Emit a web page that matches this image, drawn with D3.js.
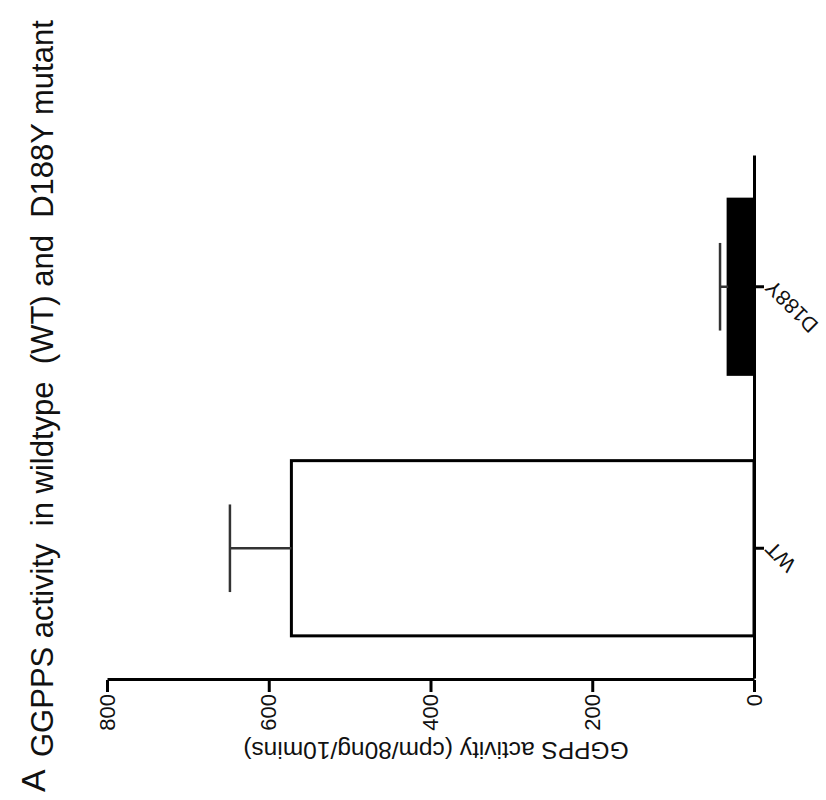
<!DOCTYPE html>
<html>
<head>
<meta charset="utf-8">
<script src="https://cdn.jsdelivr.net/npm/d3@7"></script>
<style>
  body { margin: 0; background: #fff; }
  text { font-family: "Liberation Sans", Arial, Helvetica, sans-serif; fill: #111; }
</style>
</head>
<body>
<div id="chart"></div>
<script>
// values
const categories = ["WT", "D188Y"];
const means = [572, 32];
const errors = [76, 10];
const valueTicks = [0, 200, 400, 600, 800];
const panelLetter = "A";
const title = "GGPPS activity  in wildtype  (WT) and  D188Y mutant";
const yLabel = "GGPPS activity (cpm/80ng/10mins)";

const W = 826, H = 800;

const svg = d3.select("#chart").append("svg")
  .attr("width", W)
  .attr("height", H);

// The figure is drawn as an ordinary vertical bar chart and then turned
// 90 degrees counter-clockwise, like the reference.
const g = svg.append("g")
  .attr("transform", `translate(0,${H}) rotate(-90)`);

const data = categories.map((c, i) => ({ cat: c, mean: means[i], err: errors[i] }));

const x = d3.scaleBand()
  .domain(categories)
  .range([121, 644])
  .paddingInner(0.33)
  .paddingOuter(0.165);

const y = d3.scaleLinear()
  .domain([0, 800])
  .range([754, 107]);

// bars
g.append("g")
  .selectAll("rect")
  .data(data)
  .join("rect")
  .attr("x", d => x(d.cat))
  .attr("y", d => y(d.mean))
  .attr("width", x.bandwidth())
  .attr("height", d => y(0) - y(d.mean))
  .attr("fill", d => d.cat === "WT" ? "#fff" : "#000")
  .attr("stroke", "#000")
  .attr("stroke-width", 3);

// error bars (upper side only)
const eb = g.append("g")
  .attr("stroke", "#333")
  .attr("stroke-width", 2.5);
eb.selectAll("line.stem")
  .data(data)
  .join("line")
  .attr("class", "stem")
  .attr("x1", d => x(d.cat) + x.bandwidth() / 2)
  .attr("x2", d => x(d.cat) + x.bandwidth() / 2)
  .attr("y1", d => y(d.mean))
  .attr("y2", d => y(d.mean + d.err));
eb.selectAll("line.cap")
  .data(data)
  .join("line")
  .attr("class", "cap")
  .attr("x1", d => x(d.cat) + x.bandwidth() * 0.25)
  .attr("x2", d => x(d.cat) + x.bandwidth() * 0.75)
  .attr("y1", d => y(d.mean + d.err))
  .attr("y2", d => y(d.mean + d.err));

// value axis
const yAxisG = g.append("g")
  .attr("transform", "translate(120,0)")
  .call(d3.axisLeft(y).tickValues(valueTicks).tickSize(12).tickSizeOuter(0).tickPadding(2));
yAxisG.select(".domain").attr("stroke-width", 3);
yAxisG.selectAll(".tick line").attr("stroke-width", 3);
yAxisG.selectAll(".tick text")
  .style("font-size", "22px")
  .style("font-family", "Liberation Sans, Arial, sans-serif");

// category axis
const xAxisG = g.append("g")
  .attr("transform", "translate(0,754)")
  .call(d3.axisBottom(x).tickSize(10).tickSizeOuter(0));
xAxisG.select(".domain").attr("stroke-width", 3);
xAxisG.selectAll(".tick line").attr("stroke-width", 3);
xAxisG.selectAll(".tick text")
  .style("font-size", "21px")
  .style("font-family", "Liberation Sans, Arial, sans-serif")
  .attr("text-anchor", "end")
  .attr("transform", "translate(3,15) rotate(-45)")
  .attr("y", 0)
  .attr("dy", "0.35em");

// axis title
g.append("text")
  .attr("transform", "translate(58,436) rotate(-90)")
  .attr("text-anchor", "middle")
  .style("font-size", "24.5px")
  .text(yLabel);

// panel letter and chart title
g.append("text")
  .attr("x", 8)
  .attr("y", 45)
  .style("font-size", "34px")
  .text(panelLetter);

g.append("text")
  .attr("x", 43)
  .attr("y", 53)
  .style("font-size", "31px")
  .style("white-space", "pre")
  .text(title);
</script>
</body>
</html>
